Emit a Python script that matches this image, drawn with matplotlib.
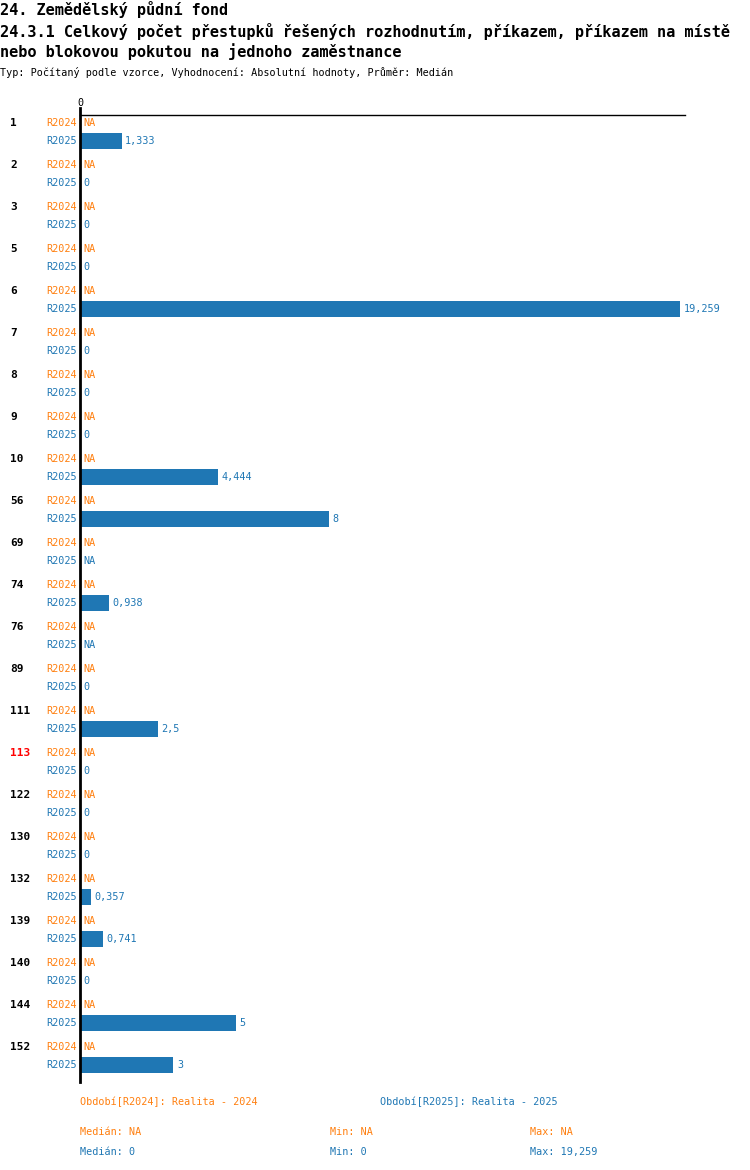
import matplotlib
matplotlib.use("Agg")
import matplotlib.pyplot as plt
from matplotlib.transforms import blended_transform_factory

ids = ["1", "2", "3", "5", "6", "7", "8", "9", "10", "56", "69", "74", "76", "89",
       "111", "113", "122", "130", "132", "139", "140", "144", "152"]
r2024 = [None] * len(ids)
r2025 = [1.333, 0, 0, 0, 19.259, 0, 0, 0, 4.444, 8, None, 0.938, None, 0, 2.5,
         0, 0, 0, 0.357, 0.741, 0, 5, 3]
highlight = "113"
series_names = ["R2024", "R2025"]
legend_texts = ["Období[R2024]: Realita - 2024", "Období[R2025]: Realita - 2025"]
stats = [("Medián: NA", "Min: NA", "Max: NA"), ("Medián: 0", "Min: 0", "Max: 19,259")]
title1 = "24. Zemědělský půdní fond"
title2 = "24.3.1 Celkový počet přestupků řešených rozhodnutím, příkazem, příkazem na místě"
title3 = "nebo blokovou pokutou na jednoho zaměstnance"
subtitle = "Typ: Počítaný podle vzorce, Vyhodnocení: Absolutní hodnoty, Průměr: Medián"

ORANGE = "#ff7f0e"
BLUE = "#1f77b4"
FONT = "DejaVu Sans Mono"
W, H = 750, 1170

def fmt(v):
    if v is None:
        return "NA"
    return f"{v:g}".replace(".", ",")

fig = plt.figure(figsize=(W / 100, H / 100), dpi=100)
# axes in pixel coordinates: left 80, right 685, top 115, bottom 1082
ax_l, ax_r, ax_t, ax_b = 80, 685, 115, 1082
ax = fig.add_axes([ax_l / W, 1 - ax_b / H, (ax_r - ax_l) / W, (ax_b - ax_t) / H])
for s in ax.spines.values():
    s.set_visible(False)
ax.set_xticks([])
ax.set_yticks([])
vmax = max(v for v in r2025 if v is not None)
ax.set_xlim(0, vmax * 605 / 600)
ax.set_ylim(ax_b - ax_t, 0)  # pixel-like units downward from top

def ypos(g, k):
    return 8 + g * 42 + k * 18

fs = 7.3
xpix = lambda px: (px - ax_l) / (ax_r - ax_l)
trans = blended_transform_factory(ax.transAxes, ax.transData)

for g, gid in enumerate(ids):
    col = "red" if gid == highlight else "black"
    ax.text(xpix(10), ypos(g, 0), gid, transform=trans, ha="left", va="center",
            fontsize=8, fontweight="bold", color=col, family=FONT, clip_on=False)
    for k, (vals, c) in enumerate(((r2024, ORANGE), (r2025, BLUE))):
        y = ypos(g, k)
        ax.text(xpix(77), y, series_names[k], transform=trans, ha="right", va="center",
                fontsize=fs, color=c, family=FONT, clip_on=False)
        v = vals[g]
        if v is not None and v > 0:
            ax.barh(y, v, height=16, left=0, color=BLUE, edgecolor="none")
            ax.annotate(fmt(v), (v, y), xytext=(2.5, 0), textcoords="offset points",
                        ha="left", va="center", fontsize=fs, color=c, family=FONT,
                        annotation_clip=False)
        else:
            ax.text(xpix(83), y, fmt(v), transform=trans, ha="left", va="center",
                    fontsize=fs, color=c, family=FONT, clip_on=False)

# axis lines
ax.plot([0, 1], [1, 1], transform=ax.transAxes, color="black", lw=1, clip_on=False)
ax.plot([0, 0], [1 + 7 / 967, 0], transform=ax.transAxes, color="black", lw=2, clip_on=False)
ax.text(0, 1 + 12 / 967, "0", transform=ax.transAxes, ha="center", va="center",
        fontsize=fs, family=FONT, clip_on=False)

def ftext(px, py, s, **kw):
    fig.text(px / W, 1 - py / H, s, family=FONT, va="center", ha="left", **kw)

ftext(0, 10, title1, fontsize=11, fontweight="bold")
ftext(0, 31, title2, fontsize=11, fontweight="bold")
ftext(0, 52, title3, fontsize=11, fontweight="bold")
ftext(0, 73, subtitle, fontsize=fs)

ftext(80, 1102, legend_texts[0], fontsize=fs, color=ORANGE)
ftext(380, 1102, legend_texts[1], fontsize=fs, color=BLUE)
for row, (c, py) in enumerate(((ORANGE, 1132), (BLUE, 1152))):
    for px, s in zip((80, 330, 530), stats[row]):
        ftext(px, py, s, fontsize=fs, color=c)

fig.savefig("out.png", dpi=100)
